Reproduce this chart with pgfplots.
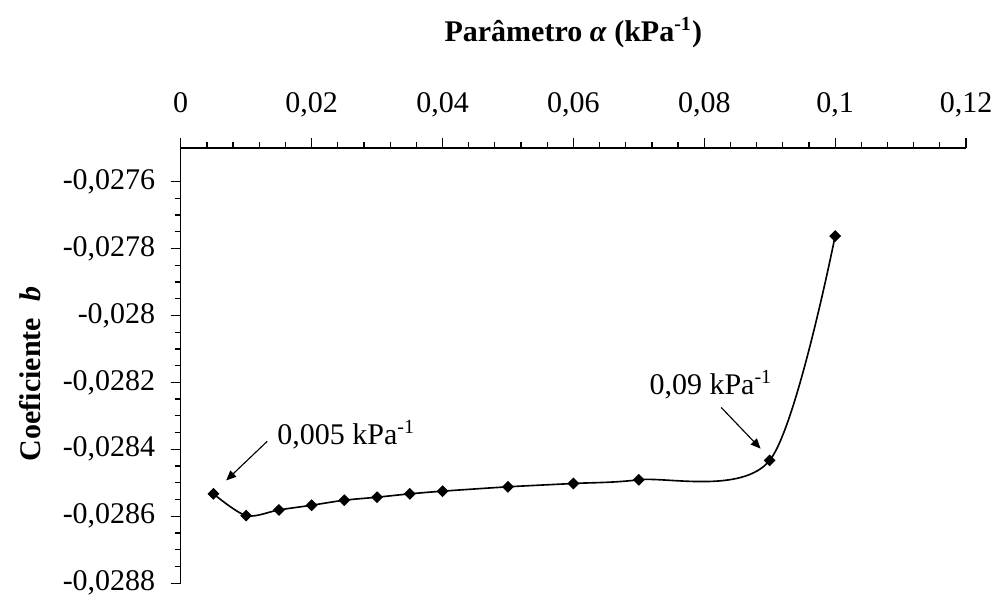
\documentclass[border=0pt]{standalone}
\usepackage{fontspec}
\setmainfont{Liberation Serif}
\usepackage{pgfplots}
\pgfplotsset{compat=1.18}
\usetikzlibrary{arrows.meta}
\pgfplotstableread{
x y
0.005 -0.028533
0.010 -0.028598
0.015 -0.028581
0.020 -0.028567
0.025 -0.028552
0.030 -0.028543
0.035 -0.028533
0.040 -0.028525
0.050 -0.028512
0.060 -0.028502
0.070 -0.028491
0.090 -0.028433
0.100 -0.027763
}\datab
\begin{document}
\begin{tikzpicture}
\begin{axis}[
  name=ax,
  scale only axis, width=314.1pt, height=174.1pt,
  xmin=0, xmax=0.12, ymin=-0.0288, ymax=-0.0275,
  axis x line*=top, axis y line*=left,
  axis line style={line width=0.5pt},
  tick align=outside,
  scaled x ticks=false, scaled y ticks=false,
  xtick={0,0.02,0.04,0.06,0.08,0.1,0.12},
  xticklabels={0,{0,02},{0,04},{0,06},{0,08},{0,1},{0,12}},
  ytick={-0.0288,-0.0286,-0.0284,-0.0282,-0.028,-0.0278,-0.0276},
  yticklabels={{-0,0288},{-0,0286},{-0,0284},{-0,0282},{-0,028},{-0,0278},{-0,0276}},
  minor x tick num=4, minor y tick num=3,
  major tick length=4pt, minor tick length=2.4pt,
  every tick/.style={black, line width=0.5pt},
  tick label style={font=\fontsize{12}{14}\selectfont},
  xticklabel style={anchor=base, inner sep=0pt, yshift=10pt},
  yticklabel style={anchor=east, inner sep=0pt, xshift=-6pt},
  xlabel={Parâmetro \textit{α} (kPa\textsuperscript{-1})},
  xlabel style={at={(axis description cs:0.5,1)}, anchor=center, yshift=46pt, font=\bfseries\fontsize{12}{14}\selectfont},
  ylabel={Coeficiente\hspace{0.55em}\textit{b}},
  ylabel style={at={(axis description cs:-0.192,0.481)}, anchor=center, font=\bfseries\fontsize{12}{14}\selectfont},
  clip=false,
]
\addplot[black, line width=0.65pt, smooth, tension=0.5, mark=square*, mark size=1.35pt,
  mark options={rotate=45, solid, fill=black}] table[x=x,y=y]{\datab};
\node[font=\fontsize{12}{14}\selectfont, anchor=base west, inner sep=0pt] at (axis cs:0.0147,-0.028385) {0,005 kPa\textsuperscript{-1}};
\node[font=\fontsize{12}{14}\selectfont, anchor=base west, inner sep=0pt] at (axis cs:0.07156,-0.028236) {0,09 kPa\textsuperscript{-1}};
\draw[line width=0.45pt, -{Triangle[length=4pt,width=3.4pt]}] (axis cs:0.01322,-0.028376) -- (axis cs:0.00694,-0.028493);
\draw[line width=0.45pt, -{Triangle[length=4pt,width=3.4pt]}] (axis cs:0.08259,-0.028275) -- (axis cs:0.08861,-0.028398);
\end{axis}
\path[use as bounding box] ([xshift=-72.3pt,yshift=-11.9pt]ax.south west) rectangle ([xshift=11.6pt,yshift=59.2pt]ax.north east);
\end{tikzpicture}
\end{document}
